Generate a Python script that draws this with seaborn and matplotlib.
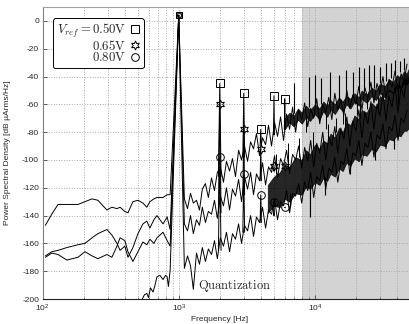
import numpy as np
import pandas as pd
import matplotlib
matplotlib.use("Agg")
import matplotlib.pyplot as plt
import seaborn as sns
from matplotlib.font_manager import FontProperties
from matplotlib.lines import Line2D

# ---------------- data ----------------
# low-frequency noise floors (Hz, dB)
f_low = [105, 117, 130, 151, 182, 205, 231, 255, 297, 323, 352, 371, 402, 424,
         461, 502, 546, 583, 614, 657, 692, 767, 822, 865]
A_low = [-147, -139, -132, -132, -132, -130, -128, -129, -136, -134, -135, -134, -137, -138,
         -130, -129, -131, -134, -130, -128, -127, -127, -125, -125]
B_low = [-169, -166, -165, -163, -161, -160, -156, -153, -150, -154, -160, -165, -162, -170,
         -163, -153, -146, -144, -149, -143, -140, -146, -141, -150]
C_low = [-170, -167, -168, -172, -170, -166, -169, -171, -168, -170, -162, -156, -158, -166,
         -173, -166, -159, -161, -157, -160, -156, -152, -158, -162]
# extra low trace close to the bottom of the axis
f_extra = [540, 560, 583, 600, 620, 648, 670, 692, 728, 767, 800, 822, 840, 865]
D_extra = [-200, -197, -196, -199, -192, -195, -190, -184, -183, -186, -183, -184, -191, -179]

# fundamental (1 kHz) peak
f_fund = [1000]
fund_db = [4]

# high-frequency noise (Hz, dB)
f_hi = [1100, 1160, 1220, 1280, 1350, 1420, 1490, 1570, 1650, 1740,
        1830, 1920, 2020, 2130, 2240, 2360, 2480, 2610, 2750, 2890,
        3040, 3200, 3370, 3540, 3720, 3920, 4120, 4340, 4560, 4800,
        5050, 5310, 5590, 5880, 6190, 6510, 6850, 7210, 7590, 7990,
        8400, 8840, 9300, 9790, 10300, 10840, 11400, 12000, 12630, 13290,
        13980, 14710, 15480, 16290, 17140, 18030, 18970, 19960, 21000, 22100,
        23250, 24470, 25740, 27090, 28500, 29990, 31550, 33200, 34930, 36750,
        38670, 40690, 42810, 45040, 47390]
A_hi = [-128, -135, -124, -131, -129, -136, -121, -117, -127, -113,
        -122, -109, -105, -116, -101, -108, -99, -112, -93, -100,
        -90, -101, -87, -92, -81, -97, -84, -89, -75, -90,
        -73, -83, -69, -86, -67, -78, -62, -80, -64, -71,
        -59, -76, -63, -70, -56, -74, -60, -66, -55, -71,
        -52, -64, -57, -68, -50, -63, -53, -60, -47, -64,
        -48, -56, -44, -59, -45, -52, -40, -56, -42, -48,
        -36, -51, -38, -44, -31]
B_hi = [-146, -151, -140, -153, -143, -147, -134, -145, -137, -139,
        -129, -142, -126, -133, -120, -136, -121, -126, -114, -130,
        -112, -121, -109, -125, -110, -115, -102, -118, -105, -109,
        -97, -113, -99, -104, -93, -110, -96, -100, -90, -106,
        -91, -101, -86, -105, -88, -95, -80, -100, -83, -90,
        -76, -95, -77, -85, -69, -90, -72, -79, -64, -84,
        -66, -74, -58, -78, -60, -68, -52, -72, -54, -62,
        -46, -66, -48, -55, -40]
C_hi = [-178, -169, -176, -193, -167, -175, -163, -173, -164, -168,
        -158, -171, -156, -162, -152, -166, -153, -157, -146, -160,
        -147, -151, -140, -155, -141, -145, -134, -149, -136, -139,
        -128, -143, -130, -133, -122, -138, -124, -126, -117, -131,
        -116, -122, -109, -127, -112, -115, -104, -121, -106, -109,
        -98, -116, -101, -103, -92, -110, -95, -97, -86, -104,
        -88, -91, -80, -98, -82, -85, -74, -92, -76, -79,
        -68, -86, -70, -73, -64]

# dense noise bands (envelopes)
up_f = [6000, 6500, 7000, 7500, 8000, 8600, 9200, 10000, 10800, 11500,
        12300, 13000, 14000, 15000, 16000, 17000, 18200, 19500, 21000, 22000,
        24000, 26000, 28000, 30000, 32500, 35000, 37500, 40000, 42500, 45000,
        47000, 49000]
up_top = [-70, -66, -68, -63, -66, -61, -64, -60, -63, -58,
          -61, -57, -60, -55, -58, -54, -56, -52, -55, -50,
          -53, -48, -50, -45, -47, -42, -44, -39, -41, -36,
          -38, -34]
up_bot = [-78, -73, -76, -71, -74, -69, -72, -67, -71, -65,
          -69, -64, -67, -62, -65, -60, -63, -58, -61, -56,
          -59, -54, -57, -52, -55, -50, -52, -47, -49, -45,
          -46, -43]
lo_f = [4500, 5000, 5500, 6000, 6500, 7200, 8000, 8600, 9200, 10000,
        10800, 11500, 12300, 13000, 14000, 15000, 16000, 17000, 18200, 19500,
        21000, 22000, 24000, 26000, 28000, 30000, 32500, 35000, 37500, 40000,
        42500, 45000, 47000, 49000]
lo_top = [-118, -112, -109, -103, -105, -98, -100, -93, -96, -89,
          -92, -86, -88, -81, -84, -77, -80, -73, -75, -68,
          -71, -64, -66, -59, -62, -54, -57, -49, -52, -45,
          -47, -41, -43, -39]
lo_bot = [-138, -133, -134, -128, -130, -124, -125, -119, -121, -116,
          -118, -113, -115, -110, -112, -106, -108, -102, -104, -99,
          -101, -96, -97, -92, -94, -89, -90, -85, -86, -82,
          -83, -79, -79, -77]

# harmonics
harm_f = [2000, 3000, 4000, 5000, 6000]
A_harm = [-45, -52, -78, -54, -56]
B_harm = [-60, -78, -92, -104, -104]
C_harm = [-98, -110, -125, -130, -134]
A_base = [-112, -98, -90, -82, -78]
B_base = [-138, -125, -115, -108, -104]
C_base = [-165, -152, -145, -140, -134]

# spurs above the upper band, spikes above the lower band, dips below the bands
spur_f = [7000, 9000, 10000, 11000, 13000, 15000, 17000, 19000, 21000, 23000,
          25000, 27000, 30000, 33000, 36000, 39000, 42000, 45000]
spur_db = [-45, -40, -39, -41, -37, -39, -35, -37, -33, -34,
           -32, -32, -33, -30, -30, -28, -29, -27]
spur_base = [-66, -62, -61, -60, -58, -57, -55, -53, -52, -50,
             -49, -48, -45, -43, -41, -39, -37, -35]
lospur_f = [5200, 6300, 7600, 9600, 12400, 14300, 16500, 20500, 24000]
lospur_db = [-96, -88, -84, -80, -74, -70, -66, -58, -55]
lospur_base = [-110, -104, -98, -92, -86, -80, -75, -68, -63]
dip_f = [6550, 9200, 11800, 18000, 27500, 38000]
dip_db = [-133, -141, -125, -110, -100, -92]
dip_base = [-124, -118, -112, -100, -92, -84]
updip_f = [8600, 12000, 16000, 21500, 29000, 41000]
updip_db = [-80, -78, -74, -70, -66, -60]
updip_base = [-70, -67, -63, -59, -54, -47]

labels = [r"$V_{ref} = 0.50\mathrm{V}$", r"$0.65\mathrm{V}$", r"$0.80\mathrm{V}$"]

# ---------------- plotting ----------------
sns.set_style("ticks")
plt.rcParams['font.family'] = ['Liberation Sans', 'DejaVu Sans']
plt.rcParams['axes.unicode_minus'] = False

fig = plt.figure(figsize=(4.09, 3.24), dpi=100)
ax = fig.add_axes([42.5 / 409, 1 - 299 / 324, 1 - 42.5 / 409, 292 / 324])
ax.set_xscale('log')

ax.axvspan(8000, 49000, color='#d3d3d3', lw=0, zorder=0.5)

lw = 0.7
series = [(A_low, A_hi), (B_low, B_hi), (C_low, C_hi)]
for low, hi in series:
    df = pd.DataFrame({'f': f_low + f_fund + f_hi, 'psd': low + fund_db + hi})
    sns.lineplot(data=df, x='f', y='psd', ax=ax, color='k', lw=lw,
                 estimator=None, sort=False, legend=False)
df_d = pd.DataFrame({'f': f_extra + f_fund, 'psd': D_extra + fund_db})
sns.lineplot(data=df_d, x='f', y='psd', ax=ax, color='k', lw=lw,
             estimator=None, sort=False, legend=False)

ax.fill_between(up_f, up_bot, up_top, color='k', lw=0.5, alpha=0.85, zorder=2)
ax.fill_between(lo_f, lo_bot, lo_top, color='k', lw=0.5, alpha=0.85, zorder=2)
ax.vlines(spur_f, spur_base, spur_db, color='k', lw=0.8, zorder=2)
ax.vlines(lospur_f, lospur_base, lospur_db, color='k', lw=0.7, zorder=2)
ax.vlines(dip_f, dip_base, dip_db, color='k', lw=0.8, zorder=2)
ax.vlines(updip_f, updip_base, updip_db, color='k', lw=0.7, zorder=2)

w_hz = 45
for peaks, bases in [(A_harm, A_base), (B_harm, B_base), (C_harm, C_base)]:
    for h, p, b in zip(harm_f, peaks, bases):
        ax.plot([h - w_hz, h, h + w_hz], [b, p, b], color='k', lw=lw, zorder=2.5)

mk = dict(ls='none', mfc='none', mec='k', mew=0.7, zorder=3)
ax.plot(harm_f, A_harm, marker='s', ms=5.5, **mk)
ax.plot(harm_f, B_harm, marker=(6, 1, 0), ms=6.5, **mk)
ax.plot(harm_f, C_harm, marker='o', ms=5.5, **mk)
ax.plot(f_fund, fund_db, marker=(6, 1, 0), ms=5, **mk)
ax.plot(f_fund, fund_db, marker='s', ms=4, **mk)

ax.set_xlim(100, 49000)
ax.set_ylim(-200, 10)
ax.set_yticks(np.arange(-200, 1, 20))

ax.grid(True, which='major', axis='y', ls=':', color='#a8a8a8', lw=0.7)
ax.grid(True, which='both', axis='x', ls=':', color='#a8a8a8', lw=0.7)

ax.tick_params(which='major', direction='in', length=3, width=0.5, labelsize=6, pad=2.5)
ax.tick_params(which='minor', direction='in', length=1.8, width=0.4)
for side, col in [('left', '#808080'), ('top', '#a0a0a0'), ('bottom', '#202020')]:
    ax.spines[side].set_visible(True)
    ax.spines[side].set_color(col)
    ax.spines[side].set_linewidth(0.8)
ax.spines['right'].set_visible(False)

ax.set_xlabel("Frequency [Hz]", fontsize=6)
ax.set_ylabel("Power Spectral Density [dB \u00b5Arms/Hz]", fontsize=6)
ax.xaxis.set_label_coords(0.484, -0.058)
ax.yaxis.set_label_coords(-0.087, 0.5)

q_prop = FontProperties(family='DejaVu Serif', size=9, math_fontfamily='cm')
ax.text(2565, -191, r"$\mathrm{Quantization}$", ha='center', va='center',
        fontproperties=q_prop, zorder=4)

cm_prop = FontProperties(family='DejaVu Serif', size=9.2, math_fontfamily='cm')
handles = [Line2D([], [], ls='none', marker='s', mfc='none', mec='k', mew=0.7, ms=5.5),
           Line2D([], [], ls='none', marker=(6, 1, 0), mfc='none', mec='k', mew=0.7, ms=6.5),
           Line2D([], [], ls='none', marker='o', mfc='none', mec='k', mew=0.7, ms=5.5)]
leg = ax.legend(handles, labels, loc='upper left', bbox_to_anchor=(0.028, 0.962),
                markerfirst=False, prop=cm_prop, frameon=True, fancybox=True,
                edgecolor='k', framealpha=1, handlelength=0.8, handletextpad=0.3,
                labelspacing=-0.1, borderpad=0.3, borderaxespad=0)
leg.get_frame().set_linewidth(0.7)
leg.set_zorder(5)

fig.savefig("out.png", dpi=100)
